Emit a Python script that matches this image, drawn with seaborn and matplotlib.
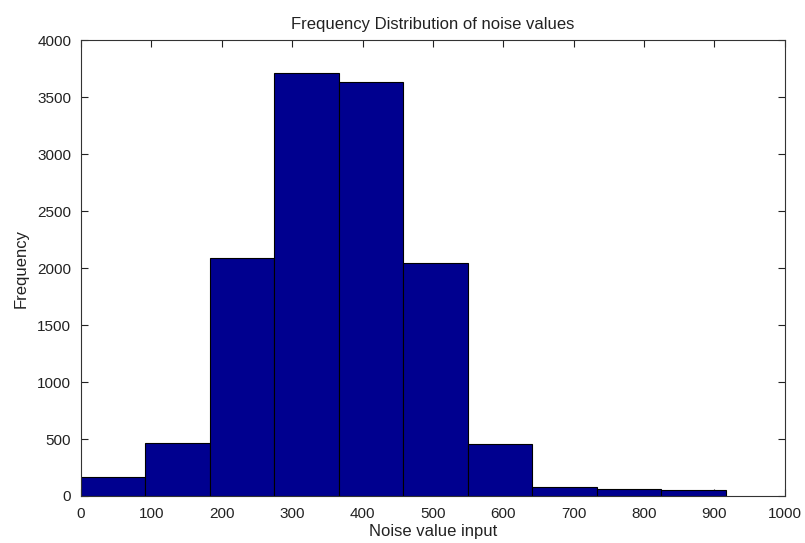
import matplotlib
matplotlib.use("Agg")
import matplotlib.pyplot as plt
import seaborn as sns
import numpy as np
import pandas as pd

# Data
bin_edges = [0, 91.6, 183.2, 274.8, 366.4, 458.0, 549.6, 641.2, 732.8, 824.4, 916.0]
counts = [170, 462, 2090, 3715, 3635, 2045, 455, 75, 62, 52]
x_ticks = [0, 100, 200, 300, 400, 500, 600, 700, 800, 900, 1000]
y_ticks = [0, 500, 1000, 1500, 2000, 2500, 3000, 3500, 4000]

centers = [(bin_edges[i] + bin_edges[i + 1]) / 2 for i in range(len(counts))]
df = pd.DataFrame({"value": centers, "count": counts})

sns.set_style("white")
plt.rcParams['font.family'] = ['Liberation Sans', 'DejaVu Sans']

fig = plt.figure(figsize=(8.05, 5.43), dpi=100)
ax = fig.add_axes([0.1006, 0.0866, 0.8744, 0.8394])

sns.histplot(data=df, x="value", weights="count", bins=bin_edges, ax=ax,
             color="#00008F", edgecolor="black", linewidth=0.8, alpha=1.0)

ax.set_xlim(0, 1000)
ax.set_ylim(0, 4000)
ax.set_xticks(x_ticks)
ax.set_yticks(y_ticks)
ax.tick_params(direction="in", length=5, width=0.8, labelsize=11,
               top=True, right=True, bottom=True, left=True, colors="#222222",
               labelcolor="#222222")
ax.tick_params(axis="x", pad=8)
ax.tick_params(axis="y", pad=7)
for s in ax.spines.values():
    s.set_visible(True)
    s.set_color("#333333")
    s.set_linewidth(0.8)

ax.set_title("Frequency Distribution of noise values", fontsize=12, pad=8, color="#222222")
ax.set_xlabel("Noise value input", fontsize=12, labelpad=2, color="#222222")
ax.set_ylabel("Frequency", fontsize=12, labelpad=6, color="#222222")

fig.savefig("out.png", dpi=100)
